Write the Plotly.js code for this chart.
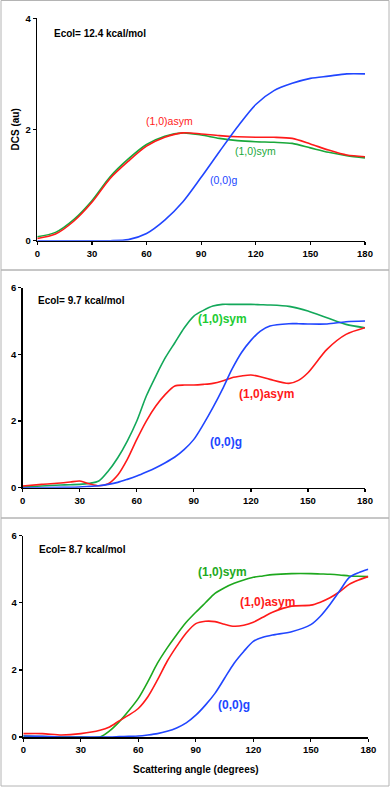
<!DOCTYPE html>
<html>
<head>
<meta charset="utf-8">
<script src="https://cdn.plot.ly/plotly-3.0.1.min.js"></script>
<style>html,body{margin:0;padding:0;background:#fff;}#chart{width:392px;height:788px;}</style>
</head>
<body>
<div id="chart"></div>
<script>
// ---- Panel 1: Ecol = 12.4 kcal/mol ----
const p1Angle = [0, 10, 20, 30, 40, 50, 60, 70, 80, 90, 100, 110, 120, 130, 140, 150, 160, 170, 180];
const p1Asym  = [0.04, 0.12, 0.35, 0.69, 1.12, 1.43, 1.70, 1.86, 1.94, 1.92, 1.89, 1.87, 1.86, 1.86, 1.84, 1.74, 1.63, 1.54, 1.51];
const p1Sym   = [0.07, 0.15, 0.38, 0.72, 1.15, 1.47, 1.73, 1.88, 1.94, 1.90, 1.84, 1.80, 1.78, 1.77, 1.75, 1.67, 1.59, 1.53, 1.49];
const p1G     = [0, 0, 0, 0, 0, 0.02, 0.13, 0.37, 0.70, 1.14, 1.60, 2.05, 2.45, 2.70, 2.83, 2.92, 2.96, 3.00, 3.00];

// ---- Panel 2: Ecol = 9.7 kcal/mol ----
const p2Angle = [0, 10, 20, 25, 30, 35, 40, 45, 50, 55, 60, 65, 70, 75, 80, 85, 90, 95, 100, 105, 110, 115, 120, 125, 130, 140, 145, 150, 160, 170, 180];
const p2Sym   = [0.02, 0.05, 0.08, 0.09, 0.10, 0.13, 0.20, 0.50, 0.90, 1.40, 2.00, 2.75, 3.35, 3.90, 4.35, 4.80, 5.15, 5.32, 5.45, 5.50, 5.50, 5.50, 5.50, 5.49, 5.48, 5.44, 5.38, 5.30, 5.10, 4.90, 4.80];
const p2Asym  = [0.05, 0.10, 0.14, 0.17, 0.20, 0.12, 0.06, 0.12, 0.38, 0.85, 1.45, 2.00, 2.45, 2.80, 3.05, 3.08, 3.08, 3.10, 3.13, 3.20, 3.30, 3.35, 3.38, 3.33, 3.25, 3.13, 3.22, 3.45, 4.15, 4.60, 4.80];
const p2G     = [0.00, 0.00, 0.01, 0.01, 0.02, 0.04, 0.06, 0.10, 0.16, 0.25, 0.35, 0.47, 0.60, 0.75, 0.92, 1.15, 1.45, 1.90, 2.40, 2.95, 3.55, 4.05, 4.42, 4.70, 4.85, 4.92, 4.92, 4.91, 4.91, 4.98, 5.00];

// ---- Panel 3: Ecol = 8.7 kcal/mol ----
const p3Angle = [0, 10, 20, 30, 40, 45, 50, 55, 60, 65, 70, 75, 80, 85, 90, 95, 100, 105, 110, 115, 120, 125, 130, 140, 150, 155, 160, 165, 170, 175, 180];
const p3Sym   = [0.03, 0.01, 0.0, 0.0, 0.0, 0.18, 0.45, 0.78, 1.15, 1.65, 2.20, 2.65, 3.05, 3.42, 3.72, 4.00, 4.28, 4.45, 4.58, 4.68, 4.76, 4.80, 4.84, 4.87, 4.87, 4.86, 4.85, 4.83, 4.80, 4.79, 4.78];
const p3Asym  = [0.10, 0.10, 0.06, 0.10, 0.20, 0.30, 0.48, 0.65, 0.85, 1.20, 1.70, 2.25, 2.70, 3.10, 3.38, 3.45, 3.44, 3.36, 3.30, 3.33, 3.42, 3.57, 3.72, 3.90, 3.93, 4.02, 4.15, 4.33, 4.55, 4.68, 4.78];
const p3G     = [0.03, 0.02, 0.0, 0.0, 0.0, 0.0, 0.01, 0.02, 0.03, 0.06, 0.10, 0.17, 0.27, 0.42, 0.65, 0.95, 1.30, 1.75, 2.20, 2.55, 2.85, 2.97, 3.04, 3.14, 3.35, 3.60, 3.95, 4.35, 4.75, 4.90, 5.00];

const xTicks = [0, 30, 60, 90, 120, 150, 180];
const panelTitles = ["Ecol= 12.4 kcal/mol", "Ecol= 9.7 kcal/mol", "Ecol= 8.7 kcal/mol"];
const seriesNames = ["(1,0)asym", "(1,0)sym", "(0,0)g"];

const RED = "#ff1a1a", GREEN1 = "#19a83a", GREEN2 = "#13a85a", GREEN3 = "#1ea81e", BLUE = "#2146ff";
const FONT = "Liberation Sans, Arial, Helvetica, sans-serif";

function tr(x, y, color, xa, ya, name) {
  return {x: x, y: y, type: "scatter", mode: "lines", name: name, xaxis: xa, yaxis: ya,
    line: {color: color, width: 1.6, shape: "spline", smoothing: 0.8}, showlegend: false, hoverinfo: "skip"};
}

const data = [
  tr(p1Angle, p1Sym, GREEN1, "x", "y", seriesNames[1]),
  tr(p1Angle, p1Asym, RED, "x", "y", seriesNames[0]),
  tr(p1Angle, p1G, BLUE, "x", "y", seriesNames[2]),
  tr(p2Angle, p2Sym, GREEN2, "x2", "y2", seriesNames[1]),
  tr(p2Angle, p2Asym, RED, "x2", "y2", seriesNames[0]),
  tr(p2Angle, p2G, BLUE, "x2", "y2", seriesNames[2]),
  tr(p3Angle, p3Sym, GREEN3, "x3", "y3", seriesNames[1]),
  tr(p3Angle, p3Asym, RED, "x3", "y3", seriesNames[0]),
  tr(p3Angle, p3G, BLUE, "x3", "y3", seriesNames[2])
];

const W = 392, H = 788;
const px = v => v / W;
const py = v => (H - v) / H;

function xa(d, anchor) {
  return {domain: d, anchor: anchor, range: [0, 180], tickvals: xTicks, ticktext: xTicks.map(String),
    showgrid: false, zeroline: false, showline: true, linecolor: "#000", linewidth: 1.5,
    ticks: "outside", ticklen: 3, tickwidth: 1.2, tickcolor: "#000",
    tickfont: {family: FONT, size: 9.5, color: "#000", weight: "bold"}, fixedrange: true};
}
function ya(d, anchor, top, step) {
  const vals = [];
  for (let v = 0; v <= top; v += step) vals.push(v);
  return {domain: d, anchor: anchor, range: [0, top], tickvals: vals, ticktext: vals.map(String),
    showgrid: false, zeroline: false, showline: true, linecolor: "#000", linewidth: 1.5,
    ticks: "outside", ticklen: 3, tickwidth: 1.2, tickcolor: "#000",
    tickfont: {family: FONT, size: 9.5, color: "#000", weight: "bold"}, fixedrange: true};
}

function ann(text, x, y, xref, yref, color, size, bold) {
  return {text: text, x: x, y: y, xref: xref, yref: yref, xanchor: "left", yanchor: "middle",
    showarrow: false, font: {family: FONT, size: size, color: color, weight: bold ? "bold" : "normal"}};
}

const layout = {
  width: W, height: H, margin: {l: 0, r: 0, t: 0, b: 0},
  paper_bgcolor: "#fff", plot_bgcolor: "#fff", showlegend: false,
  xaxis:  xa([px(37.3), px(365)], "y"),
  yaxis:  ya([py(240.7), py(18.3)], "x", 4, 2),
  xaxis2: xa([px(22.7), px(365)], "y2"),
  yaxis2: ya([py(487.7), py(287.7)], "x2", 6, 2),
  xaxis3: xa([px(23.3), px(368.3)], "y3"),
  yaxis3: ya([py(737), py(535.7)], "x3", 6, 2),
  shapes: [
    {type: "rect", xref: "paper", yref: "paper", x0: px(1), x1: px(389), y0: py(270), y1: py(0.5), line: {color: "#b4b4b4", width: 1}},
    {type: "rect", xref: "paper", yref: "paper", x0: px(1), x1: px(389), y0: py(518), y1: py(270), line: {color: "#b4b4b4", width: 1}},
    {type: "rect", xref: "paper", yref: "paper", x0: px(1), x1: px(389), y0: py(786), y1: py(518), line: {color: "#b4b4b4", width: 1}}
  ],
  annotations: [
    ann(panelTitles[0], 7.9, 3.73, "x", "y", "#000", 10, true),
    ann(seriesNames[0], 58.5, 2.16, "x", "y", RED, 10.5, false),
    ann(seriesNames[1], 107.5, 1.62, "x", "y", GREEN1, 10.5, false),
    ann(seriesNames[2], 93.8, 1.09, "x", "y", BLUE, 10.5, false),

    ann(panelTitles[1], 7.0, 5.63, "x2", "y2", "#000", 10, true),
    ann(seriesNames[1], 91.1, 5.05, "x2", "y2", "#22cc33", 12, true),
    ann(seriesNames[0], 112.5, 2.8, "x2", "y2", RED, 12, true),
    ann(seriesNames[2], 97.6, 1.36, "x2", "y2", BLUE, 12, true),

    ann(panelTitles[2], 7.0, 5.59, "x3", "y3", "#000", 10, true),
    ann(seriesNames[1], 90.1, 4.91, "x3", "y3", "#22aa22", 12, true),
    ann(seriesNames[0], 111.9, 4.01, "x3", "y3", RED, 12, true),
    ann(seriesNames[2], 100.5, 0.95, "x3", "y3", BLUE, 12, true),

    {text: "DCS (au)", x: px(15), y: py(129.5), xref: "paper", yref: "paper", xanchor: "center", yanchor: "middle",
      textangle: -90, showarrow: false, font: {family: FONT, size: 10, color: "#000", weight: "bold"}},
    {text: "Scattering angle (degrees)", x: px(195.8), y: py(769), xref: "paper", yref: "paper", xanchor: "center", yanchor: "middle",
      showarrow: false, font: {family: FONT, size: 10, color: "#000", weight: "bold"}}
  ]
};

Plotly.newPlot("chart", data, layout, {staticPlot: true, displayModeBar: false});
</script>
</body>
</html>
